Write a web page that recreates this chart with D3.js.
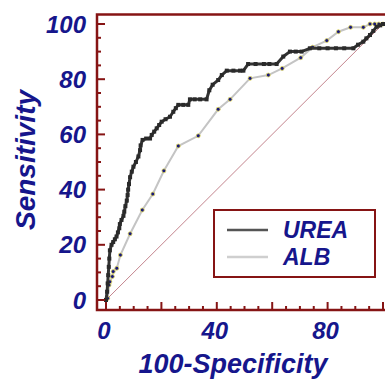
<!DOCTYPE html>
<html><head><meta charset="utf-8">
<script src="https://cdn.jsdelivr.net/npm/d3@7"></script>
<style>html,body{margin:0;padding:0;background:#fff;overflow:hidden}</style>
</head><body>
<svg id="c" width="385" height="383"></svg>
<script>
// Data
const ureaX = [0,0.4,0.6,0.8,1,1.2,1.4,2,2.6,3.2,3.8,4.3,4.8,5,5.6,6.3,6.6,7,7.5,7.8,8,8.3,8.7,9.3,9.9,10.8,11.7,12.3,12.5,13.2,14.5,15.9,16.5,17.4,18.3,19.2,20.1,21.5,23.1,24.3,25.2,26.1,27.9,29.7,30.3,32,34,36.3,37.3,38.5,40.5,41.8,43.6,46,48.4,49.6,51.3,54,57,59,61.6,64,66.4,68.5,70.6,73.6,77,80,83,86,89.3,91,92.9,94,95.3,96.5,97.7,99,100];
const ureaY = [0,3,6,9,12,15,18,20,21,22,23,24.5,26,27.5,29,30.5,32,34,36,38,40,42,44.5,46.5,48.3,50,52,54.3,56,58,58.5,58.5,59.8,61,62.2,63.4,64.6,65.5,66.4,68.2,69.5,70.7,70.7,70.7,72.7,72.7,72.7,72.7,76,78,79.7,81.5,83.1,83.1,83.1,83.1,85.5,85.5,85.5,85.5,85.5,88.2,90,90,90,91.2,91.2,91.2,91.2,91.2,91.2,92.5,93.6,94.8,96,97.5,99,99.5,100];
const albX = [0,0.6,1.1,1.4,2.3,2.6,3.9,5.2,8.7,13.1,16.9,20.9,26.1,33.3,40.5,44.8,52,58.6,63.6,70.3,74.6,79.7,83.9,88.3,92.9,95.3,97,98.5,100];
const albY = [0,0.6,5.4,6.6,8.5,10.3,11.5,16.3,24,32.6,38.4,46.8,55.8,59.5,69.1,72.7,80.3,81.5,83.9,87.8,91.6,94,97.2,98.8,98.8,100,100,100,100];
const seriesNames = ["UREA","ALB"];
const yTickLabels = [0,20,40,60,80,100];
const xTickLabels = [0,40,80];

const svg = d3.select("#c");
const x = d3.scaleLinear().domain([0,100]).range([106,383]);
const y = d3.scaleLinear().domain([0,100]).range([300,24]);
const axisColor = "#861414";
const textColor = "#16168c";
const font = "'Liberation Sans', Arial, sans-serif";

// diagonal
svg.append("line")
  .attr("x1",x(0)).attr("y1",y(0)).attr("x2",x(100)).attr("y2",y(100))
  .attr("stroke","#c4858e").attr("stroke-width",1);

// ALB
const urea = ureaX.map((v,i)=>[v,ureaY[i]]);
const alb = albX.map((v,i)=>[v,albY[i]]);
const line = d3.line().x(d=>x(d[0])).y(d=>y(d[1]));
svg.append("path").datum(alb).attr("d",line).attr("fill","none")
  .attr("stroke","#c4c4c4").attr("stroke-width",2);
svg.selectAll(".am").data(alb).enter().append("circle")
  .attr("cx",d=>x(d[0])).attr("cy",d=>y(d[1])).attr("r",2)
  .attr("fill","#1a1a7a").attr("stroke","#e8e060").attr("stroke-width",0.8);

// UREA
svg.append("path").datum(urea).attr("d",line).attr("fill","none")
  .attr("stroke","#333").attr("stroke-width",3).attr("stroke-linejoin","round");
svg.selectAll(".um").data(urea).enter().append("rect")
  .attr("x",d=>x(d[0])-2).attr("y",d=>y(d[1])-2).attr("width",4).attr("height",4)
  .attr("fill","#2a2a2a");

// frame
svg.append("rect").attr("x",97).attr("y",14.5).attr("width",300).attr("height",295.5)
  .attr("fill","none").attr("stroke",axisColor).attr("stroke-width",2.5);

// ticks
const minor = d3.range(0,101,5);
minor.forEach(v=>{
  const major = v%20===0;
  const len = major?8:4;
  svg.append("line").attr("x1",97).attr("x2",97+len).attr("y1",y(v)).attr("y2",y(v))
    .attr("stroke",axisColor).attr("stroke-width",2);
  svg.append("line").attr("x1",x(v)).attr("x2",x(v)).attr("y1",310).attr("y2",310-len)
    .attr("stroke",axisColor).attr("stroke-width",2);
});

// tick labels
svg.selectAll(".yl").data(yTickLabels).enter().append("text")
  .attr("x",86).attr("y",d=>y(d)+8.5).attr("text-anchor","end")
  .attr("font-family",font).attr("font-weight","bold").attr("font-style","italic")
  .attr("font-size",24).attr("fill",textColor).text(d=>d);
svg.selectAll(".xl").data(xTickLabels).enter().append("text")
  .attr("x",d=>x(d)-2).attr("y",339).attr("text-anchor","middle")
  .attr("font-family",font).attr("font-weight","bold").attr("font-style","italic")
  .attr("font-size",24).attr("fill",textColor).text(d=>d);

// titles
svg.append("text").attr("x",233).attr("y",373).attr("text-anchor","middle")
  .attr("font-family",font).attr("font-weight","bold").attr("font-style","italic")
  .attr("font-size",27).attr("fill",textColor).text("100-Specificity");
svg.append("text").attr("transform","translate(35,160) rotate(-90)").attr("text-anchor","middle")
  .attr("font-family",font).attr("font-weight","bold").attr("font-style","italic")
  .attr("font-size",28).attr("fill",textColor).text("Sensitivity");

// legend
svg.append("rect").attr("x",214).attr("y",210).attr("width",161).attr("height",67)
  .attr("fill","#fff").attr("stroke",axisColor).attr("stroke-width",2);
const legColors = ["#555","#cfcfcf"];
seriesNames.forEach((n,i)=>{
  const ly = 230 + i*27;
  svg.append("line").attr("x1",227).attr("x2",268).attr("y1",ly).attr("y2",ly)
    .attr("stroke",legColors[i]).attr("stroke-width",2.5);
  svg.append("text").attr("x",283).attr("y",ly+8).attr("font-family",font)
    .attr("font-weight","bold").attr("font-style","italic").attr("font-size",23)
    .attr("fill",textColor).text(n);
});
</script>
</body></html>
